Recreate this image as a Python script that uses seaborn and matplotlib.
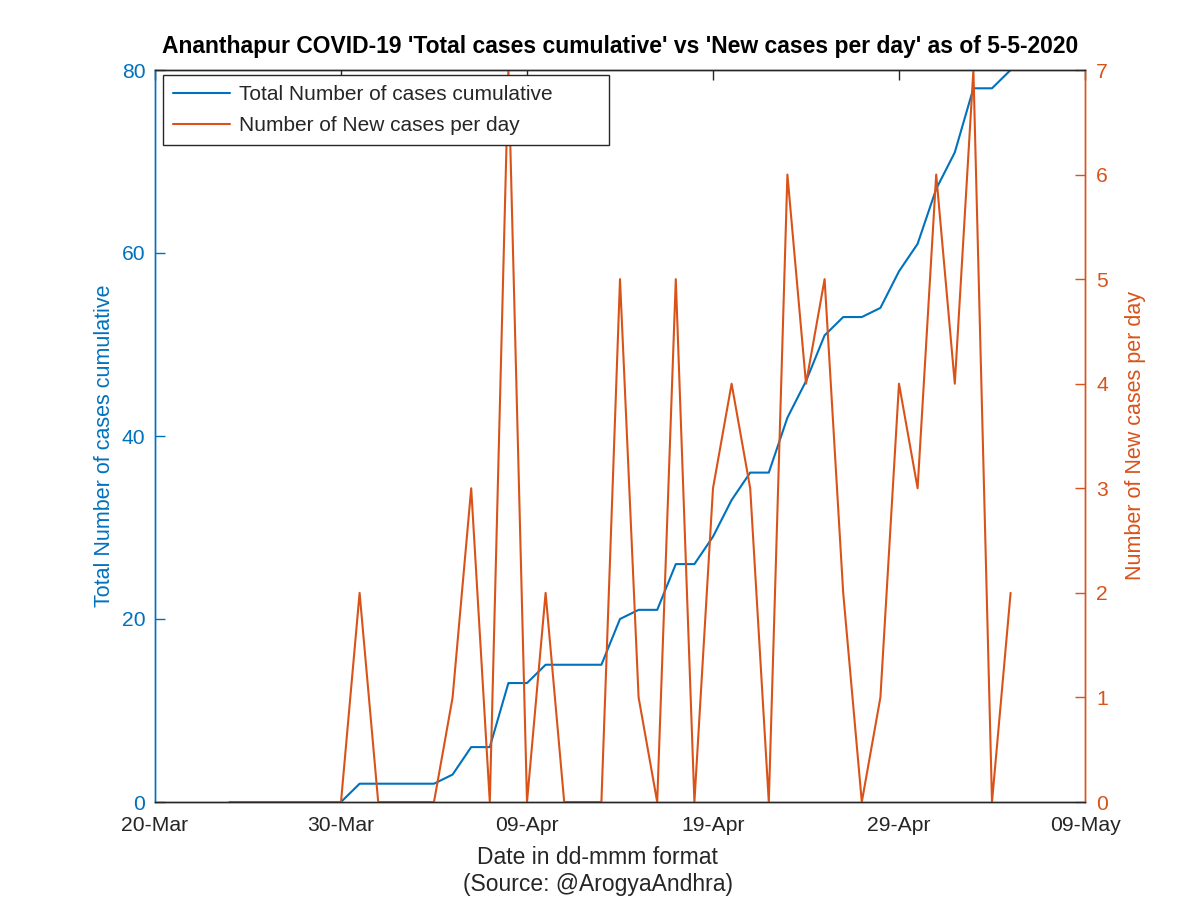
import pandas as pd
import seaborn as sns
import matplotlib.pyplot as plt
import matplotlib.dates as mdates

# data
dates = pd.date_range('2020-03-24', '2020-05-05', freq='D')
new_cases = [0, 0, 0, 0, 0, 0, 0, 2, 0, 0, 0, 0, 1, 3, 0, 7, 0, 2, 0, 0, 0,
             5, 1, 0, 5, 0, 3, 4, 3, 0, 6, 4, 5, 2, 0, 1, 4, 3, 6, 4, 7, 0, 2]
total_cases = [None, None, None, None, None, None, 0, 2, 2, 2, 2, 2, 3, 6, 6, 13, 13, 15, 15, 15, 15,
               20, 21, 21, 26, 26, 29, 33, 36, 36, 42, 46, 51, 53, 53, 54, 58, 61, 67, 71, 78, 78, 80]
xtick_dates = ['2020-03-20', '2020-03-30', '2020-04-09', '2020-04-19', '2020-04-29', '2020-05-09']

df = pd.DataFrame({'Date': dates, 'Total': total_cases, 'New': new_cases})
df['Total'] = df['Total'].astype(float)

blue = '#0072BD'
orange = '#D95319'

sns.set_style('white')
plt.rcParams['font.family'] = ['Liberation Sans', 'DejaVu Sans']

fig = plt.figure(figsize=(12, 8.98), dpi=100)
ax = fig.add_axes([155 / 1200, 96 / 898, 930 / 1200, 732 / 898])
ax2 = ax.twinx()

sns.lineplot(data=df, x='Date', y='Total', ax=ax, color=blue, linewidth=1.5,
             label='Total Number of cases cumulative', legend=False)
sns.lineplot(data=df, x='Date', y='New', ax=ax2, color=orange, linewidth=1.5,
             label='Number of New cases per day', legend=False)

ax.set_xlim(pd.Timestamp('2020-03-20'), pd.Timestamp('2020-05-09'))
ax.set_ylim(0, 80)
ax2.set_ylim(0, 7)
ax.set_yticks([0, 20, 40, 60, 80])
ax2.set_yticks(range(0, 8))
ax.set_xticks(pd.to_datetime(xtick_dates))
ax.xaxis.set_major_formatter(mdates.DateFormatter('%d-%b'))

ax.set_xlabel('Date in dd-mmm format\n(Source: @ArogyaAndhra)', fontsize=16.5, color='#262626', labelpad=8)
ax.xaxis.label.set_x(0.476)
ax.set_ylabel('Total Number of cases cumulative', fontsize=15.5, color=blue, labelpad=5)
ax.yaxis.label.set_y(0.486)
ax2.set_ylabel('Number of New cases per day', fontsize=15.5, color=orange, labelpad=12.5)
ax.set_title("Ananthapur COVID-19 'Total cases cumulative' vs 'New cases per day' as of 5-5-2020",
             fontsize=16.5, fontweight='bold', pad=12, color='black')

ax.tick_params(axis='x', direction='in', length=7, width=1, top=True, labelsize=15.2,
               colors='#262626', pad=10)
ax.tick_params(axis='y', direction='in', length=7, width=1, labelsize=15.2, colors=blue, pad=7)
ax2.tick_params(axis='y', direction='in', length=7, width=1, labelsize=15.2, colors=orange, pad=8)

for a in (ax, ax2):
    a.spines['top'].set_color('#262626')
    a.spines['bottom'].set_color('#262626')
    a.spines['left'].set_color(blue)
    a.spines['right'].set_color(orange)
    for s in a.spines.values():
        s.set_linewidth(1)

h1, l1 = ax.get_legend_handles_labels()
h2, l2 = ax2.get_legend_handles_labels()
leg = ax2.legend(h1 + h2, l1 + l2, loc='upper left', fontsize=15, frameon=True, fancybox=False,
                 framealpha=1, edgecolor='#262626', borderaxespad=0, handlelength=2.7,
                 handletextpad=0.45, borderpad=0.5, labelspacing=0.55, mode='expand',
                 bbox_to_anchor=(8 / 930, (802 - 141) / 732, 446 / 930, 66 / 732))
leg.get_frame().set_linewidth(1)

fig.savefig('out.png', dpi=100)
